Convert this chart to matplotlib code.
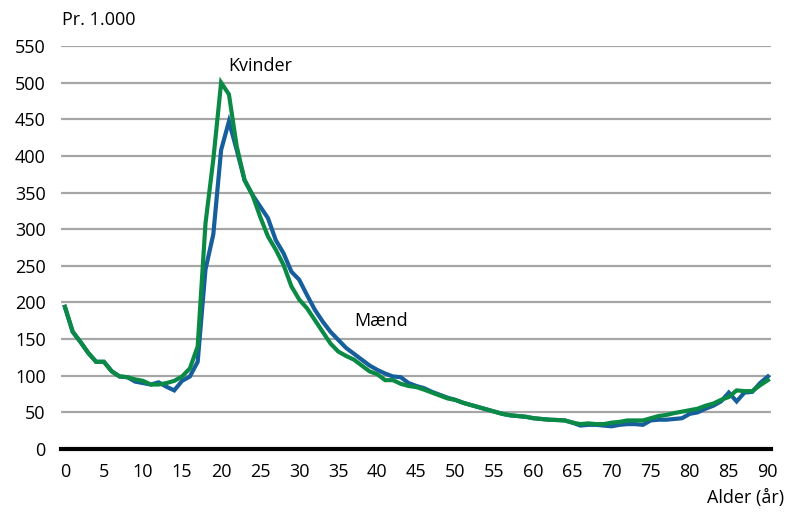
import numpy as np
import matplotlib.pyplot as plt

plt.rcParams['font.family'] = ['Open Sans', 'DejaVu Sans']

# Alder 0-90
ages = np.arange(0, 91)

# Pr. 1.000, Mænd
maend = [194, 160, 146, 131, 119, 119, 106, 99, 98, 92,
         90, 88, 91, 85, 80, 93, 99, 119, 245, 293,
         408, 447, 408, 367, 347, 331, 315, 285, 267, 242,
         231, 210, 190, 174, 160, 149, 138, 130, 122, 114,
         108, 103, 99, 98, 90, 86, 83, 78, 74, 70,
         67, 63, 60, 57, 54, 51, 48, 46, 45, 44,
         42, 41, 40, 39.6, 39, 36, 32, 33, 33, 32,
         31, 33, 34, 34, 33, 39, 40, 40, 41, 42,
         48, 50, 55, 59, 65, 77, 65, 77, 78, 90,
         99]

# Pr. 1.000, Kvinder
kvinder = [194, 160, 146, 131, 119, 119, 106, 99, 98, 95,
           93, 88, 88, 90, 93, 99, 110, 140, 308, 395,
           500, 484, 413, 367, 347, 317, 290, 272, 251, 222,
           204, 192, 176, 160, 144, 133, 127, 122, 114, 106,
           102, 94, 94, 89, 86, 84.5, 81, 77, 73, 69,
           67, 63, 60, 57, 54, 51, 48, 46, 45, 44,
           42, 41, 40, 39.6, 39, 36, 34, 35, 34, 34,
           36, 37, 39, 39, 39, 42, 45, 46.5, 49, 51,
           53, 55, 59, 62, 67, 71, 80, 79, 79, 87,
           94]

yticks = list(range(0, 551, 50))
xticks = list(range(0, 91, 5))

fig = plt.figure(figsize=(7.86, 5.16), dpi=100)
ax = fig.add_axes([0.0776, 0.1298, 0.9033, 0.7811])

ax.plot(ages, maend, color='#165f9c', lw=3.0, solid_joinstyle='miter', zorder=3)
ax.plot(ages, kvinder, color='#0b8a45', lw=3.0, solid_joinstyle='miter', zorder=4)

ax.set_xlim(-0.5, 90.4)
ax.set_ylim(0, 550)
ax.set_yticks(yticks)
ax.set_xticks(xticks)
ax.yaxis.grid(True, color='#a6a6a6', lw=1.6)
ax.set_axisbelow(True)
for s in ['top', 'right', 'left']:
    ax.spines[s].set_visible(False)
ax.spines['bottom'].set_color('black')
ax.spines['bottom'].set_linewidth(3)
ax.spines['bottom'].set_zorder(5)
ax.tick_params(axis='both', length=0, labelsize=13, colors='black')
ax.tick_params(axis='y', pad=11)
ax.tick_params(axis='x', pad=10)

ax.text(20.9, 522, 'Kvinder', fontsize=13, va='center', ha='left')
ax.text(37.0, 175, 'Mænd', fontsize=13, va='center', ha='left')

fig.text(0.079, 0.962, 'Pr. 1.000', fontsize=13, ha='left', va='center')
fig.text(0.997, 0.017, 'Alder (år)', fontsize=13, ha='right', va='bottom')

fig.savefig('out.png', dpi=100)
